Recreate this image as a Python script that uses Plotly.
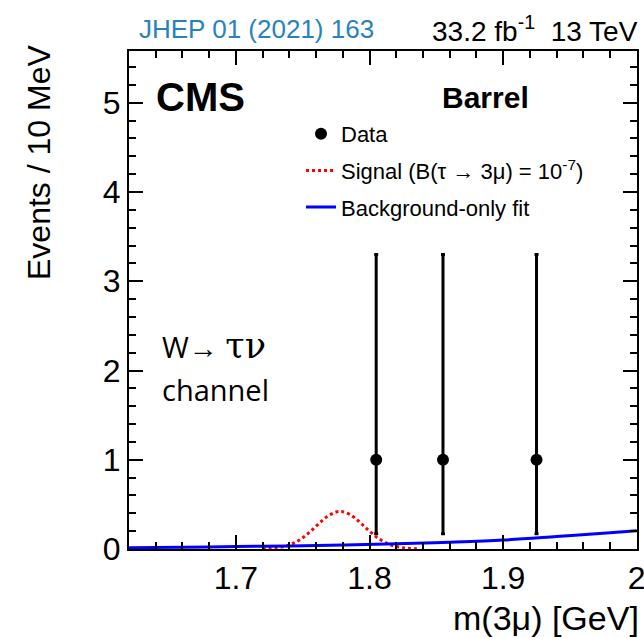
import plotly.graph_objects as go

# ---- data ----
data_x = [1.805, 1.855, 1.925]
data_y = [1, 1, 1]
data_err_up = [2.30, 2.30, 2.30]
data_err_dn = [0.83, 0.83, 0.83]

sig_x = [1.720, 1.725, 1.730, 1.735, 1.740, 1.745, 1.750, 1.755, 1.760, 1.765,
         1.770, 1.775, 1.778, 1.780, 1.785, 1.790, 1.795, 1.800, 1.805, 1.810,
         1.815, 1.820, 1.825, 1.830, 1.836]
sig_y = [0.002, 0.006, 0.012, 0.024, 0.045, 0.078, 0.125, 0.186, 0.255, 0.324,
         0.380, 0.414, 0.420, 0.417, 0.389, 0.336, 0.269, 0.199, 0.136, 0.087,
         0.050, 0.028, 0.014, 0.006, 0.002]

bkg_x = [1.62, 1.66, 1.70, 1.74, 1.78, 1.82, 1.86, 1.90, 1.94, 1.98, 2.00]
bkg_y = [0.015, 0.020, 0.027, 0.035, 0.045, 0.058, 0.076, 0.100, 0.140, 0.183, 0.205]

x_tickvals = [1.7, 1.8, 1.9, 2.0]
x_ticktext = ["1.7", "1.8", "1.9", "2"]
x_range = [1.62, 2.0002]
y_range = [0, 5.58]

FONT = "Liberation Sans, Arial, Helvetica, sans-serif"

fig = go.Figure()

fig.add_trace(go.Scatter(
    x=data_x, y=data_y, mode="markers", name="Data", legendgroup="a",
    marker=dict(color="black", size=12),
    error_y=dict(type="data", array=data_err_up, arrayminus=data_err_dn,
                 color="black", thickness=3, width=2),
))
fig.add_trace(go.Scatter(
    x=sig_x, y=sig_y, mode="lines", legendgroup="b",
    name="Signal (B(τ → 3μ) = 10<sup>-7</sup>)",
    line=dict(color="red", width=3, dash="dot", shape="spline"),
))
fig.add_trace(go.Scatter(
    x=bkg_x, y=bkg_y, mode="lines", legendgroup="c",
    name="Background-only fit",
    line=dict(color="blue", width=3, shape="spline"),
))

axis_common = dict(
    showgrid=False, zeroline=False, showline=True, linecolor="black", linewidth=2,
    mirror="ticks", ticks="inside", ticklen=14, tickwidth=2, tickcolor="black",
    tickfont=dict(family=FONT, size=32, color="black"),
    ticklabeloverflow="allow", automargin=False,
)

fig.update_xaxes(range=x_range, tickmode="array", tickvals=x_tickvals, ticktext=x_ticktext,
                 minor=dict(dtick=0.02, tick0=1.6, ticklen=7, tickwidth=2, tickcolor="black",
                            ticks="inside"),
                 **axis_common)
fig.update_yaxes(range=y_range, dtick=1, tick0=0,
                 minor=dict(dtick=0.2, ticklen=7, tickwidth=2, tickcolor="black", ticks="inside"),
                 **axis_common)

# page body margin is removed below, so figure pixels == page pixels
W, H = 644, 638
L, R, T = 129, 7, 51
B = H - 549
pw, ph = W - L - R, H - T - B

def px(x):
    return (x - L) / pw

def py(y):
    return (H - B - y) / ph

ann = []
ann.append(dict(text="JHEP 01 (2021) 163", x=px(137), y=py(29), xanchor="left", yanchor="middle",
                font=dict(family=FONT, size=26, color="rgb(40,130,190)")))
ann.append(dict(text="33.2 fb<sup>-1</sup>  13 TeV", x=px(640), y=py(29), xanchor="right", yanchor="middle",
                font=dict(family=FONT, size=28, color="black")))
ann.append(dict(text="<b>CMS</b>", x=px(154), y=py(97), xanchor="left", yanchor="middle",
                font=dict(family=FONT, size=40, color="black")))
ann.append(dict(text="<b>Barrel</b>", x=px(440), y=py(97), xanchor="left", yanchor="middle",
                font=dict(family=FONT, size=30, color="black")))
ann.append(dict(text="W→ <span style='font-family:DejaVu Serif;font-size:35px'>τν</span>",
                x=px(160), y=py(346), xanchor="left", yanchor="middle",
                font=dict(family="Open Sans, sans-serif", size=29, color="black")))
ann.append(dict(text="channel", x=px(160), y=py(389), xanchor="left", yanchor="middle",
                font=dict(family="Open Sans, sans-serif", size=29, color="black")))
ann.append(dict(text="m(3μ) [GeV]", x=px(641), y=py(618), xanchor="right", yanchor="middle",
                font=dict(family=FONT, size=34, color="black")))
ann.append(dict(text="Events / 10 MeV", x=px(39), y=py(163), textangle=-90,
                xanchor="center", yanchor="middle",
                font=dict(family=FONT, size=32, color="black")))
for a in ann:
    a.update(xref="paper", yref="paper", showarrow=False)

fig.update_layout(
    width=W, height=H,
    margin=dict(l=L, r=R, t=T, b=B, autoexpand=False),
    paper_bgcolor="white", plot_bgcolor="white",
    annotations=ann,
    legend=dict(x=px(301), y=py(113), xanchor="left", yanchor="top",
                font=dict(family=FONT, size=22, color="black"),
                bgcolor="rgba(0,0,0,0)", tracegroupgap=5),
    showlegend=True,
)

fig.write_html(
    "out.html",
    config={"displayModeBar": False},
    post_script="document.body.style.margin='0';document.body.style.overflow='hidden';",
)
